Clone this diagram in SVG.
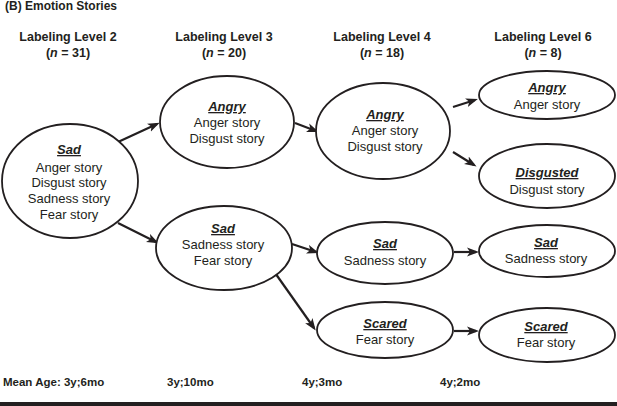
<svg xmlns="http://www.w3.org/2000/svg" width="617" height="406" viewBox="0 0 617 406">
<style>
text{font-family:"Liberation Sans",Arial,sans-serif;fill:#231f20}
.h{font-size:12.5px;font-weight:bold;text-anchor:middle}
.t{font-size:12px;font-weight:bold}
.m{font-size:11.5px;font-weight:bold}
.n{font-size:13px;text-anchor:middle}
.l{font-size:13px;font-weight:bold;font-style:italic;text-decoration:underline;text-anchor:middle}
ellipse{fill:#fff;stroke:#231f20;stroke-width:1.8}
.c line{stroke:#231f20;stroke-width:2.2;marker-end:url(#ah)}
</style>
<defs>
<marker id="ah" markerUnits="userSpaceOnUse" markerWidth="12" markerHeight="10" viewBox="0 0 12 10" refX="9" refY="5" orient="auto">
<path d="M0,0.5 L12,5 L0,9.5 L3,5 Z" fill="#231f20"/>
</marker>
</defs>
<rect width="617" height="406" fill="#fff"/>
<text class="t" x="5" y="10">(B) Emotion Stories</text>
<g id="headers">
<text class="h" x="68" y="41">Labeling Level 2</text>
<text class="h" x="68" y="57">(<tspan font-style="italic">n</tspan> = 31)</text>
<text class="h" x="224" y="41">Labeling Level 3</text>
<text class="h" x="224" y="57">(<tspan font-style="italic">n</tspan> = 20)</text>
<text class="h" x="382" y="41">Labeling Level 4</text>
<text class="h" x="382" y="57">(<tspan font-style="italic">n</tspan> = 18)</text>
<text class="h" x="543" y="41">Labeling Level 6</text>
<text class="h" x="543" y="57">(<tspan font-style="italic">n</tspan> = 8)</text>
</g>
<g class="c" id="connectors">
<line x1="118" y1="142" x2="157" y2="124"/>
<line x1="118" y1="223" x2="156" y2="242"/>
<line x1="295" y1="123" x2="316" y2="131"/>
<line x1="453" y1="107" x2="475" y2="100"/>
<line x1="453" y1="152" x2="474" y2="165"/>
<line x1="292" y1="244" x2="316" y2="252"/>
<line x1="273" y1="270" x2="314" y2="328"/>
<line x1="454" y1="252" x2="476" y2="252"/>
<line x1="454" y1="331" x2="476" y2="331"/>
</g>
<g id="n2-sad">
<ellipse cx="70" cy="181" rx="68" ry="57"/>
<text class="l" x="69" y="154">Sad</text>
<text class="n" x="69" y="171.5">Anger story</text>
<text class="n" x="69" y="187">Disgust story</text>
<text class="n" x="69" y="203">Sadness story</text>
<text class="n" x="69" y="219">Fear story</text>
</g>
<g id="n3-angry">
<ellipse cx="227" cy="122" rx="67" ry="46"/>
<text class="l" x="227" y="111">Angry</text>
<text class="n" x="227" y="127">Anger story</text>
<text class="n" x="227" y="143">Disgust story</text>
</g>
<g id="n3-sad">
<ellipse cx="224" cy="248" rx="68" ry="42"/>
<text class="l" x="223" y="233">Sad</text>
<text class="n" x="223" y="249">Sadness story</text>
<text class="n" x="223" y="265">Fear story</text>
</g>
<g id="n4-angry">
<ellipse cx="383" cy="131" rx="67" ry="48"/>
<text class="l" x="385" y="119">Angry</text>
<text class="n" x="385" y="135">Anger story</text>
<text class="n" x="385" y="151">Disgust story</text>
</g>
<g id="n4-sad">
<ellipse cx="385" cy="253" rx="68" ry="31"/>
<text class="l" x="385" y="248">Sad</text>
<text class="n" x="385" y="265">Sadness story</text>
</g>
<g id="n4-scared">
<ellipse cx="385" cy="330" rx="68" ry="28"/>
<text class="l" x="385" y="328">Scared</text>
<text class="n" x="385" y="344">Fear story</text>
</g>
<g id="n6-angry">
<ellipse cx="547" cy="95" rx="68" ry="24"/>
<text class="l" x="547" y="92">Angry</text>
<text class="n" x="547" y="109">Anger story</text>
</g>
<g id="n6-disgusted">
<ellipse cx="547" cy="176" rx="68" ry="32"/>
<text class="l" x="547" y="177">Disgusted</text>
<text class="n" x="547" y="194">Disgust story</text>
</g>
<g id="n6-sad">
<ellipse cx="547" cy="251" rx="68" ry="26"/>
<text class="l" x="546" y="247">Sad</text>
<text class="n" x="546" y="263">Sadness story</text>
</g>
<g id="n6-scared">
<ellipse cx="547" cy="335" rx="68" ry="27"/>
<text class="l" x="546" y="331">Scared</text>
<text class="n" x="546" y="347">Fear story</text>
</g>
<g id="ages">
<text class="m" x="3" y="386">Mean Age: 3y;6mo</text>
<text class="m" x="167" y="386">3y;10mo</text>
<text class="m" x="302" y="386">4y;3mo</text>
<text class="m" x="440" y="386">4y;2mo</text>
</g>
<rect x="0" y="402" width="617" height="4" fill="#231f20"/>
</svg>
